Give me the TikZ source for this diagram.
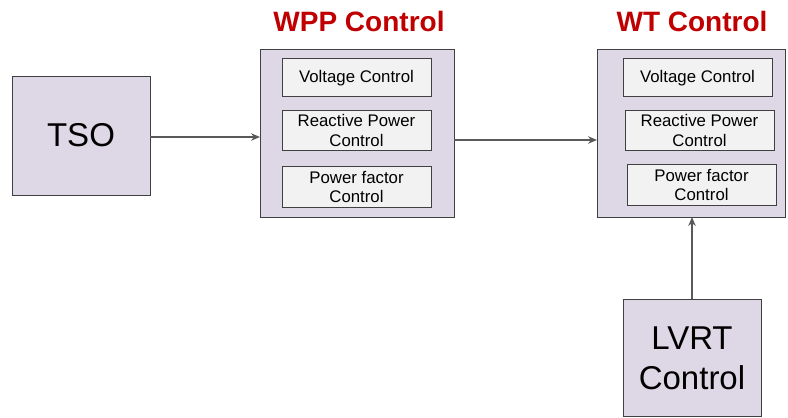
\documentclass[tikz,border=0pt]{standalone}
\usepackage{fontspec}
\setmainfont{Liberation Sans}
\usetikzlibrary{arrows.meta}
\definecolor{boxfill}{HTML}{DDD7E6}
\definecolor{innerfill}{HTML}{F2F2F2}
\definecolor{edge}{HTML}{404040}
\definecolor{titlered}{HTML}{C00000}
\definecolor{arrowgray}{HTML}{595959}
\tikzset{
  bigbox/.style={draw=edge, line width=1pt, fill=boxfill, inner sep=0pt, outer sep=0pt},
  innerbox/.style={draw=edge, line width=0.9pt, fill=innerfill, inner sep=0pt, outer sep=0pt,
    minimum width=149pt, align=center, font=\fontsize{16.8}{19.5}\selectfont},
  innertext/.style={align=center, inner sep=0pt, font=\fontsize{16.8}{19.5}\selectfont},
  bigtext/.style={font=\fontsize{33}{40}\selectfont, align=center},
  titletext/.style={font=\fontsize{28}{32}\selectfont\bfseries, text=titlered},
  arr/.style={draw=arrowgray, line width=1.1pt, -{Stealth[length=9pt,width=7.5pt]}}
}
\begin{document}
\begin{tikzpicture}[x=1pt,y=-1pt]
\useasboundingbox (0,0) rectangle (788,418);
% main boxes
\node[bigbox, minimum width=138pt, minimum height=119pt] (tso) at (81,135.5) {};
\node[bigtext] (tsot) at (81,135.5) {TSO};
\node[bigbox, minimum width=194pt, minimum height=168pt] (wpp) at (357,133) {};
\node[bigbox, minimum width=188pt, minimum height=168pt] (wt) at (691,133) {};
\node[bigbox, minimum width=138pt, minimum height=117pt] (lvrt) at (692,357.5) {};
\node[bigtext] (lvrtt) at (692,358) {LVRT\\Control};
% titles
\node[titletext] (wppt) at (359,21) {WPP Control};
\node[titletext] (wtt) at (692,21) {WT Control};
% inner boxes WPP
\node[innerbox, minimum height=38pt] (wv) at (356.5,77) {};
\node[innertext] at (356.5,78.5) {Voltage Control};
\node[innerbox, minimum height=40pt] (wr) at (356.5,130) {};
\node[innertext] at (356.5,130.5) {Reactive Power\\Control};
\node[innerbox, minimum height=41pt] (wp) at (356.5,186.5) {};
\node[innertext] at (356.5,187) {Power factor\\Control};
% inner boxes WT
\node[innerbox, minimum height=38pt] (tv) at (697.5,77) {};
\node[innertext] at (697.5,78.5) {Voltage Control};
\node[innerbox, minimum height=40pt] (tr) at (699.5,130) {};
\node[innertext] at (699.5,130.5) {Reactive Power\\Control};
\node[innerbox, minimum height=41pt] (tp) at (701.5,184.5) {};
\node[innertext] at (701.5,185) {Power factor\\Control};
% connectors
\draw[arr] ([yshift=-1.5pt]tso.east) -- ([yshift=-4pt]wpp.west);
\draw[arr] ([yshift=-7pt]wpp.east) -- ([yshift=-7pt]wt.west);
\draw[arr] (lvrt.north) -- (lvrt.north |- wt.south);
\end{tikzpicture}
\end{document}
